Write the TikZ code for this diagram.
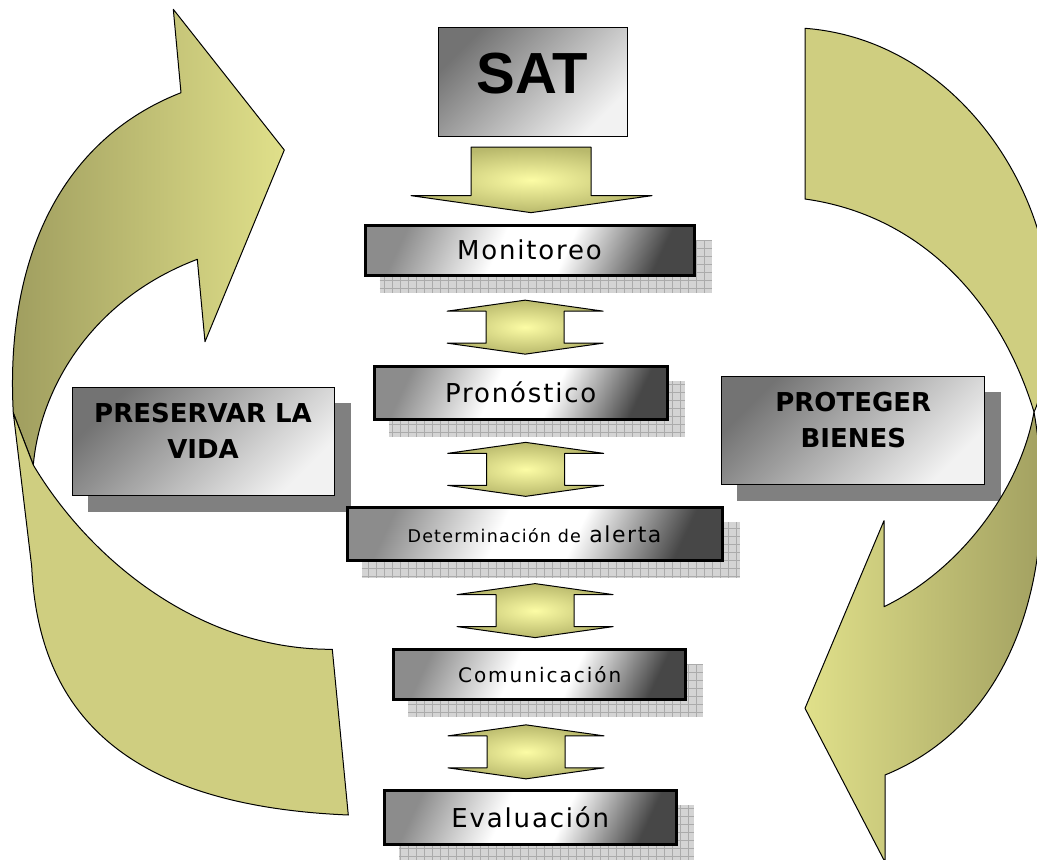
\documentclass[tikz,border=0pt]{standalone}
\usepackage{fontspec}
\setmainfont{DejaVu Sans}
\newfontfamily\satfont{Liberation Sans}
\newfontfamily\stepfont[LetterSpace=7]{DejaVu Sans}
\newfontfamily\widefont[LetterSpace=10]{DejaVu Sans}
\usepackage{tikz}
\usetikzlibrary{calc}
\usetikzlibrary{backgrounds}

\definecolor{bandflat}{RGB}{207,206,128}
\definecolor{banddark}{RGB}{158,156,94}
\definecolor{bandlight}{RGB}{224,224,138}
\definecolor{arrlight}{RGB}{252,252,165}
\definecolor{arrdark}{RGB}{185,185,108}

\pgfdeclarehorizontalshading{stepshade}{100bp}{color(0bp)=(black!45); color(25bp)=(black!45); color(44bp)=(white); color(57bp)=(white); color(75bp)=(black!72); color(100bp)=(black!72)}
\pgfdeclarehorizontalshading{tagshade}{100bp}{color(0bp)=(black!55); color(25bp)=(black!55); color(75bp)=(black!5); color(100bp)=(black!5)}

\tikzset{
  downarrow/.pic={
    \draw[blockarrow] (-60,-33) -- (60,-33) -- (60,15.5) -- (121,15.5) -- (0,32.5) -- (-120,15.5) -- (-60,15.5) -- cycle;
  },
  dblarrow/.pic={
    \draw[blockarrow] (0,-27) -- (78,-16) -- (39,-16) -- (39,16) -- (78,16) -- (0,27) -- (-78,16) -- (-39,16) -- (-39,-16) -- (-78,-16) -- cycle;
  }
}

\begin{document}
\begin{tikzpicture}[x=1pt,y=-1pt,
      stepbox/.style={draw, line width=3pt, shading=stepshade, shading angle=-25, inner sep=0pt,
        font=\stepfont\fontsize{26}{30}\selectfont},
      tagbox/.style={draw, line width=1pt, shading=tagshade, shading angle=-45, inner sep=0pt, align=center,
        font=\bfseries\fontsize{26}{36}\selectfont},
      gridshadow/.style={fill=black!17},
      darkshadow/.style={fill=black!50},
      blockarrow/.style={draw, line width=1pt, line join=round, inner color=arrlight, outer color=arrdark},
      band/.style={draw, line width=1pt, line join=round}]

      \path[use as bounding box, clip] (0,0) rectangle (1037,860);

      % left band (back side, then front side)
      \draw[band, left color=banddark, right color=bandlight]
        (173.3,9.3) -- (181,92.7)
        .. controls (60,140) and (5,260) .. (13.3,413)
        -- (33.3,465)
        .. controls (40,390) and (90,300) .. (197.3,259.3)
        -- (205,341.7) -- (284.3,150) -- cycle;
      \draw[band, fill=bandflat]
        (13.3,413) -- (31.7,566.7)
        .. controls (38,700) and (110,805) .. (348.3,815)
        -- (332.3,649.3)
        .. controls (200,650) and (90,560) .. (33.3,465)
        -- cycle;

      % right band
      \draw[band, fill=bandflat]
        (805,199) -- (805,28.3)
        .. controls (960,40) and (1060,200) .. (1050,330)
        .. controls (1046,370) and (1040,400) .. (1034,412)
        .. controls (1000,300) and (920,215) .. (805,199)
        -- cycle;
      \draw[band, left color=bandlight, right color=banddark]
        (1034,412) .. controls (1060,560) and (1020,720) .. (885,775)
        -- (885,862) -- (805,708.3) -- (884,520.7) -- (884,606.7)
        .. controls (960,570) and (1020,490) .. (1034,412)
        -- cycle;

      \node[tagbox, font=\satfont\bfseries\fontsize{58}{60}\selectfont, minimum width=189, minimum height=109] (sat) at (532.5,81.5) {SAT\rule[-16pt]{0pt}{1pt}};

      \node[stepbox, minimum width=329, minimum height=50] (mon) at (529.5,250.3) {Monitoreo};
      \node[stepbox, minimum width=293, minimum height=53] (pro) at (520.8,392.5) {Pronóstico};
      \node[stepbox, minimum width=375, minimum height=53, font=\stepfont\fontsize{22}{26}\selectfont] (det) at (534.5,534.2) {{\fontsize{17.5}{20}\selectfont Determinación de} alerta};
      \node[stepbox, minimum width=292, minimum height=50, font=\widefont\fontsize{20}{24}\selectfont] (com) at (539.7,674.5) {Comunicación};
      \node[stepbox, minimum width=292, minimum height=54] (eva) at (530.3,817.2) {Evaluación};

      \node[tagbox, minimum width=262, minimum height=108] (vida) at (203,441.5) {PRESERVAR LA\\VIDA\rule[-22pt]{0pt}{1pt}};
      \node[tagbox, minimum width=263, minimum height=108] (bienes) at (853.3,430.8) {PROTEGER\\BIENES\rule[-22pt]{0pt}{1pt}};

      \begin{scope}[on background layer]
        \foreach \n in {mon,pro,det,com,eva}{
          \fill[gridshadow] ($(\n.north west)+(16,16)$) rectangle ($(\n.south east)+(16,16)$);
          \draw[black!33, line width=0.5pt, step=8pt] ($(\n.north west)+(16,16)$) grid ($(\n.south east)+(16,16)$);
        }
        \foreach \n in {vida,bienes}
          \fill[darkshadow] ($(\n.north west)+(16,16)$) rectangle ($(\n.south east)+(16,16)$);
      \end{scope}

      \pic at ($(sat.south)!0.5!(mon.north)$) {downarrow};
      \pic at ($(mon.south)!0.5!(pro.north)+(0,6.5)$) {dblarrow};
      \pic at ($(pro.south)!0.5!(det.north)+(-2,6)$) {dblarrow};
      \pic at ($(det.south)!0.5!(com.north)+(-2,5.5)$) {dblarrow};
      \pic at ($(com.south)!0.5!(eva.north)+(-9,7)$) {dblarrow};

    \end{tikzpicture}
\end{document}
